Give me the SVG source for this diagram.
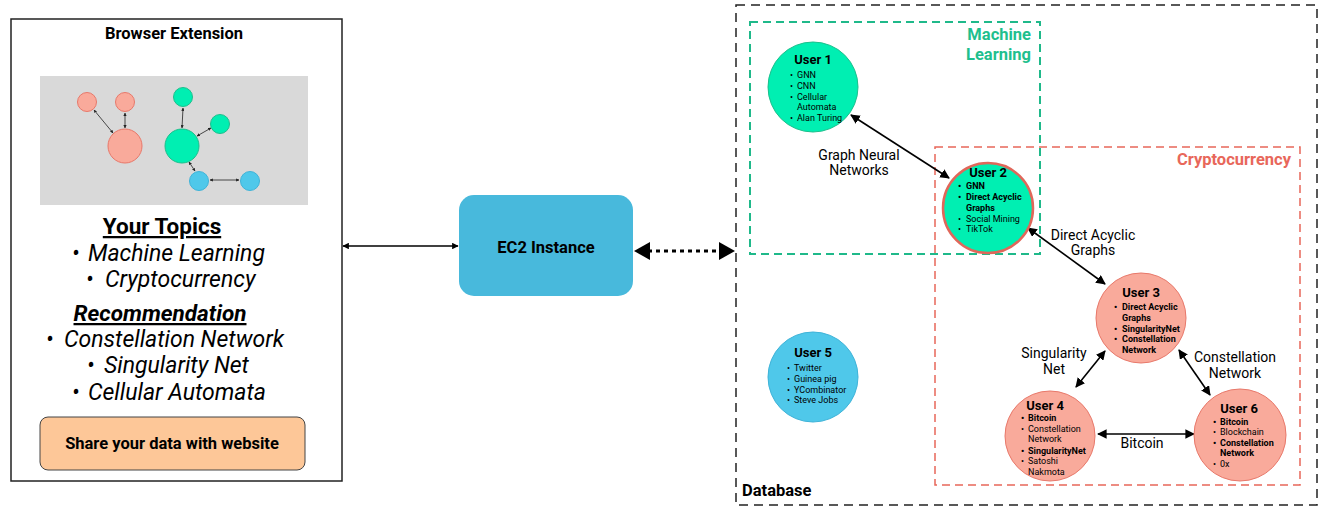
<svg xmlns="http://www.w3.org/2000/svg" width="1322" height="512" viewBox="0 0 1322 512">
<style>
text{font-family:Roboto,"Liberation Sans",sans-serif;fill:#000}
.b{font-weight:bold}
.t{font-size:13px;font-weight:bold;text-anchor:middle}
.s{font-size:9px}
.lbl{font-size:14px;text-anchor:middle}
.big{font-size:23px;font-style:italic}
.g{fill:#00EFB2;stroke:#1DBF8C;stroke-width:1}
.p{fill:#F9AA9B;stroke:#E8786A;stroke-width:1}
.bl{fill:#4FC8EA;stroke:#3FB3D8;stroke-width:1}
.conn{stroke:#000;stroke-width:1.6;fill:none;marker-start:url(#ah);marker-end:url(#ah)}
.mini{stroke:#222;stroke-width:0.8;fill:none;marker-start:url(#mh);marker-end:url(#mh)}
</style>
<defs>
<marker id="ah" viewBox="0 0 10 10" refX="9" refY="5" markerWidth="6" markerHeight="6" orient="auto-start-reverse"><path d="M0,0L10,5L0,10z" fill="#000"/></marker>
<marker id="mh" viewBox="0 0 10 10" refX="9" refY="5" markerWidth="4" markerHeight="4" orient="auto-start-reverse"><path d="M0,0L10,5L0,10z" fill="#222"/></marker>
<marker id="bh" viewBox="0 0 10 10" refX="9" refY="5" markerWidth="5" markerHeight="5" orient="auto-start-reverse"><path d="M0,0L10,5L0,10z" fill="#000"/></marker>
</defs>
<rect width="1322" height="512" fill="#fff"/>

<g id="browser-extension">
<rect x="11" y="19" width="331" height="462" fill="#fff" stroke="#222" stroke-width="1.5"/>
<text x="174" y="39" class="b" font-size="16.5" text-anchor="middle">Browser Extension</text>
<rect x="40" y="76" width="268" height="129" fill="#D9D9D9"/>
<g id="mini-graph">
<line class="mini" x1="94" y1="110" x2="113" y2="133"/>
<line class="mini" x1="125" y1="113" x2="125" y2="128"/>
<line class="mini" x1="183" y1="108" x2="182" y2="128"/>
<line class="mini" x1="211" y1="128" x2="197" y2="136"/>
<line class="mini" x1="189" y1="162" x2="195" y2="171"/>
<line class="mini" x1="210" y1="180" x2="239" y2="180"/>
<circle class="p" cx="87" cy="102" r="9.5"/>
<circle class="p" cx="125" cy="102" r="9.5"/>
<circle class="p" cx="125" cy="146" r="17"/>
<circle class="g" cx="183" cy="97" r="9.5"/>
<circle class="g" cx="220" cy="124" r="9.5"/>
<circle class="g" cx="182" cy="146" r="17"/>
<circle class="bl" cx="199" cy="181" r="9.5"/>
<circle class="bl" cx="250" cy="181" r="9.5"/>
</g>
<text x="162" y="234" class="b" font-size="22.5" text-anchor="middle" text-decoration="underline">Your Topics</text>
<text x="72" y="261" class="big">•</text><text x="88" y="261" class="big">Machine Learning</text>
<text x="86" y="287" class="big">•</text><text x="105" y="287" class="big">Cryptocurrency</text>
<text x="160" y="321" class="b" font-size="22.5" font-style="italic" text-anchor="middle" text-decoration="underline">Recommendation</text>
<text x="46" y="347" class="big">•</text><text x="64" y="347" class="big">Constellation Network</text>
<text x="87" y="373" class="big">•</text><text x="104" y="373" class="big">Singularity Net</text>
<text x="72" y="400" class="big">•</text><text x="88" y="400" class="big">Cellular Automata</text>
<rect x="40" y="417" width="265" height="53" rx="8" fill="#FDC798" stroke="#444" stroke-width="1"/>
<text x="172" y="449" class="b" font-size="16.5" text-anchor="middle">Share your data with website</text>
</g>

<g id="ec2">
<rect x="459" y="195" width="174" height="101" rx="15" fill="#48B9DC"/>
<text x="546" y="253" class="b" font-size="16.5" text-anchor="middle">EC2 Instance</text>
</g>

<g id="database">
<rect x="736" y="5" width="581" height="500" fill="none" stroke="#222" stroke-width="1.5" stroke-dasharray="9 6"/>
<text x="742" y="496" class="b" font-size="16.5">Database</text>
</g>

<g id="ml-cluster">
<rect x="750" y="22" width="290" height="232" fill="none" stroke="#1FB98A" stroke-width="2" stroke-dasharray="8 5"/>
<text x="1031" y="40" class="b" font-size="16.5" text-anchor="end" style="fill:#1FBF8E">Machine</text>
<text x="1031" y="60" class="b" font-size="16.5" text-anchor="end" style="fill:#1FBF8E">Learning</text>
</g>

<g id="crypto-cluster">
<rect x="935" y="147" width="365" height="338" fill="none" stroke="#E8675A" stroke-width="1.5" stroke-dasharray="8 5"/>
<text x="1291" y="165" class="b" font-size="16.5" text-anchor="end" style="fill:#E8675A">Cryptocurrency</text>
</g>

<g id="connectors">
<line x1="343" y1="246" x2="458" y2="246" stroke="#000" stroke-width="1.3" marker-start="url(#bh)" marker-end="url(#bh)"/>
<line x1="648" y1="251" x2="721" y2="251" stroke="#000" stroke-width="3" stroke-dasharray="4 4"/>
<path d="M634,251L650,242L650,260z" fill="#000"/>
<path d="M735,251L719,242L719,260z" fill="#000"/>
<line class="conn" x1="851" y1="115" x2="949" y2="178"/>
<line class="conn" x1="1028" y1="228" x2="1105" y2="284"/>
<line class="conn" x1="1105" y1="351" x2="1076" y2="387"/>
<line class="conn" x1="1179" y1="350" x2="1210" y2="395"/>
<line class="conn" x1="1098" y1="434" x2="1194" y2="434"/>
<text x="859" y="160" class="lbl">Graph Neural</text>
<text x="859" y="175" class="lbl">Networks</text>
<text x="1093" y="240" class="lbl">Direct Acyclic</text>
<text x="1093" y="255" class="lbl">Graphs</text>
<text x="1054" y="358" class="lbl">Singularity</text>
<text x="1054" y="374" class="lbl">Net</text>
<text x="1235" y="362" class="lbl">Constellation</text>
<text x="1235" y="378" class="lbl">Network</text>
<text x="1142" y="448" class="lbl">Bitcoin</text>
</g>

<g id="user1">
<circle class="g" cx="813" cy="87" r="45"/>
<text x="813" y="64" class="t">User 1</text>
<g class="s">
<text x="790" y="78">•</text><text x="797" y="78">GNN</text>
<text x="790" y="89">•</text><text x="797" y="89">CNN</text>
<text x="790" y="100">•</text><text x="797" y="100">Cellular</text>
<text x="797" y="110">Automata</text>
<text x="790" y="121">•</text><text x="797" y="121">Alan Turing</text>
</g>
</g>

<g id="user2">
<circle cx="988" cy="208" r="45" fill="#00EFB2" stroke="#E0675A" stroke-width="2.5"/>
<text x="988" y="177" class="t">User 2</text>
<g class="s">
<text x="958" y="189" class="b">•</text><text x="966" y="189" class="b">GNN</text>
<text x="958" y="200" class="b">•</text><text x="966" y="200" class="b">Direct Acyclic</text>
<text x="966" y="211" class="b">Graphs</text>
<text x="958" y="222">•</text><text x="966" y="222">Social Mining</text>
<text x="958" y="232">•</text><text x="966" y="232">TikTok</text>
</g>
</g>

<g id="user3">
<circle class="p" cx="1141" cy="318" r="45"/>
<text x="1141" y="297" class="t">User 3</text>
<g class="s b">
<text x="1114" y="310">•</text><text x="1122" y="310">Direct Acyclic</text>
<text x="1122" y="321">Graphs</text>
<text x="1114" y="332">•</text><text x="1122" y="332">SingularityNet</text>
<text x="1114" y="342">•</text><text x="1122" y="342">Constellation</text>
<text x="1122" y="353">Network</text>
</g>
</g>

<g id="user4">
<circle class="p" cx="1050" cy="436" r="45"/>
<text x="1045" y="410" class="t">User 4</text>
<g class="s">
<text x="1021" y="421" class="b">•</text><text x="1028" y="421" class="b">Bitcoin</text>
<text x="1021" y="432">•</text><text x="1028" y="432">Constellation</text>
<text x="1028" y="442">Network</text>
<text x="1021" y="454" class="b">•</text><text x="1028" y="454" class="b">SingularityNet</text>
<text x="1021" y="464">•</text><text x="1028" y="464">Satoshi</text>
<text x="1028" y="475">Nakmota</text>
</g>
</g>

<g id="user5">
<circle class="bl" cx="813" cy="377" r="45"/>
<text x="813" y="357" class="t">User 5</text>
<g class="s">
<text x="787" y="371">•</text><text x="794" y="371">Twitter</text>
<text x="787" y="382">•</text><text x="794" y="382">Guinea pig</text>
<text x="787" y="393">•</text><text x="794" y="393">YCombinator</text>
<text x="787" y="403">•</text><text x="794" y="403">Steve Jobs</text>
</g>
</g>

<g id="user6">
<circle class="p" cx="1240" cy="435" r="46"/>
<text x="1239" y="413" class="t">User 6</text>
<g class="s">
<text x="1213" y="425" class="b">•</text><text x="1220" y="425" class="b">Bitcoin</text>
<text x="1213" y="435">•</text><text x="1220" y="435">Blockchain</text>
<text x="1213" y="446" class="b">•</text><text x="1220" y="446" class="b">Constellation</text>
<text x="1220" y="456" class="b">Network</text>
<text x="1213" y="467">•</text><text x="1220" y="467">0x</text>
</g>
</g>
</svg>
